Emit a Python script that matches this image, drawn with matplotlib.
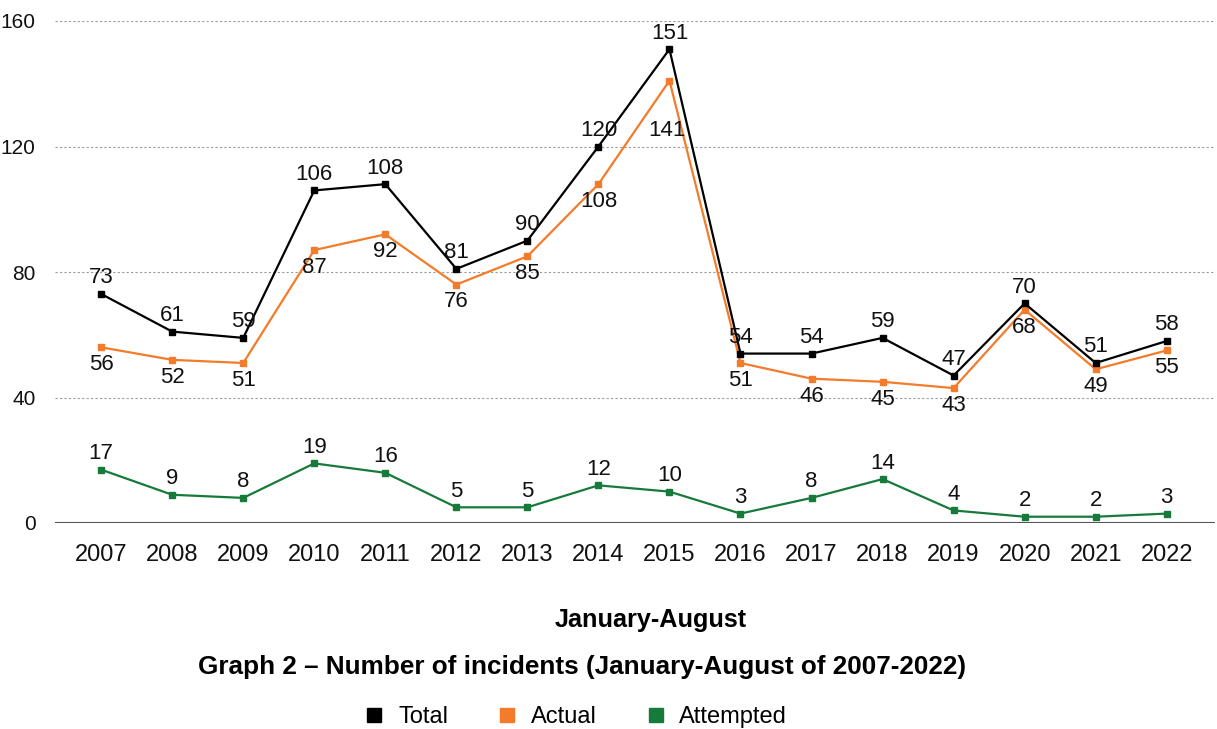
import matplotlib
matplotlib.use("Agg")
import matplotlib.pyplot as plt
from matplotlib.lines import Line2D

YEARS = [str(y) for y in range(2007, 2023)]
TOTAL = [73, 61, 59, 106, 108, 81, 90, 120, 151, 54, 54, 59, 47, 70, 51, 58]
ACTUAL = [56, 52, 51, 87, 92, 76, 85, 108, 141, 51, 46, 45, 43, 68, 49, 55]
ATTEMPTED = [17, 9, 8, 19, 16, 5, 5, 12, 10, 3, 8, 14, 4, 2, 2, 3]

C_TOTAL = "#000000"
C_ACTUAL = "#F47B2A"
C_ATTEMPT = "#167A3A"

plt.rcParams["font.family"] = ["Liberation Sans", "DejaVu Sans"]

fig = plt.figure(figsize=(12.17, 7.29), dpi=100)
ax = fig.add_axes([55 / 1217, 1 - 523 / 729, 1160 / 1217, 502 / 729])

x = list(range(len(YEARS)))
for vals, col in [(ATTEMPTED, C_ATTEMPT), (ACTUAL, C_ACTUAL), (TOTAL, C_TOTAL)]:
    ax.plot(x, vals, color=col, lw=1.6, marker="s", ms=4.5, zorder=3)

fs = 16
for i, v in enumerate(TOTAL):
    ax.annotate(str(v), (i, v), xytext=(0, 4), textcoords="offset points",
                ha="center", va="bottom", fontsize=fs, color="#111111")
for i, v in enumerate(ACTUAL):
    dy, dx = -5, 0
    if YEARS[i] == "2015":
        dy, dx = -28, -2
    ax.annotate(str(v), (i, v), xytext=(dx, dy), textcoords="offset points",
                ha="center", va="top", fontsize=fs, color="#111111")
for i, v in enumerate(ATTEMPTED):
    ax.annotate(str(v), (i, v), xytext=(0, 4), textcoords="offset points",
                ha="center", va="bottom", fontsize=fs, color="#111111")

ax.set_xlim(-0.65, 15.68)
ax.set_ylim(0, 160)
ax.set_yticks([0, 40, 80, 120, 160])
ax.set_xticks(x)
ax.set_xticklabels(YEARS)
ax.tick_params(axis="both", length=0, colors="#111111")
ax.tick_params(axis="x", pad=15, labelsize=17)
ax.tick_params(axis="y", pad=14, labelsize=15)
for s in ax.spines.values():
    s.set_visible(False)
ax.grid(axis="y", ls=(0, (2, 2)), color="#999999", lw=0.8)
ax.axhline(0, color="#555555", lw=1.5, zorder=2)

fig.text(651 / 1217, 1 - 620 / 729, "January-August", ha="center", va="center",
         fontsize=18.2, fontweight="bold")
fig.text(582 / 1217, 1 - 667 / 729,
         "Graph 2 \u2013 Number of incidents (January-August of 2007-2022)",
         ha="center", va="center", fontsize=18.8, fontweight="bold")

handles = [Line2D([], [], ls="none", marker="s", ms=10, color=c)
           for c in (C_TOTAL, C_ACTUAL, C_ATTEMPT)]
fig.legend(handles, ["Total", "Actual", "Attempted"], loc="center",
           bbox_to_anchor=(576 / 1217, 1 - 717 / 729), ncol=3, frameon=False,
           fontsize=17, handlelength=0.8, handletextpad=0.6, columnspacing=2.1)

fig.savefig("out.png", dpi=100)
